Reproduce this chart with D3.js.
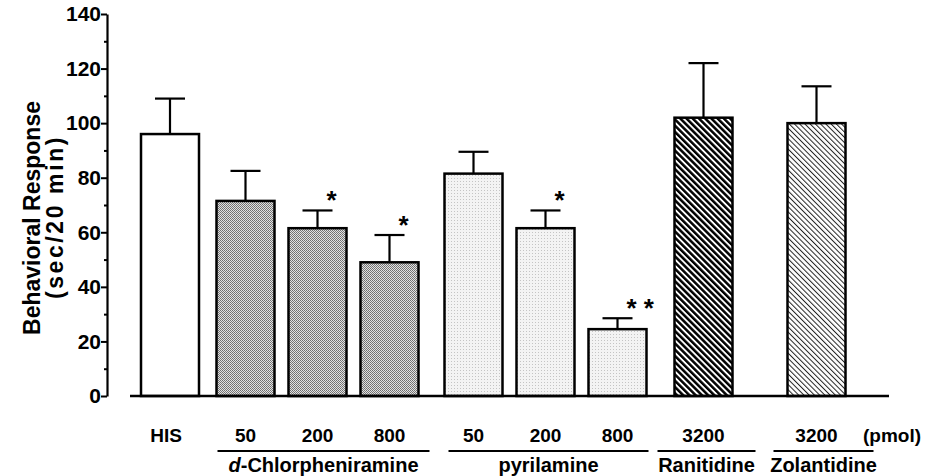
<!DOCTYPE html>
<html><head><meta charset="utf-8">
<script src="https://cdn.jsdelivr.net/npm/d3@7"></script>
<style>
body{margin:0;background:#fff}
svg{display:block}
text{font-family:"Liberation Sans",Arial,Helvetica,sans-serif;font-weight:bold;fill:#000}
</style>
</head><body><svg id="c" width="926" height="476"></svg>
<script>
// ---- data ----
const groups = ["HIS", "d-Chlorpheniramine", "pyrilamine", "Ranitidine", "Zolantidine"];
const barGroup = [0, 1, 1, 1, 2, 2, 2, 3, 4];
const doses = ["HIS", "50", "200", "800", "50", "200", "800", "3200", "3200"];
const means = [96, 71.5, 61.5, 49, 81.5, 61.5, 24.5, 102, 100];
const sems = [13, 11, 6.5, 10, 8, 6.5, 4, 20, 13.5];
const sig = ["", "", "*", "*", "", "*", "* *", "", ""];
const yTicks = [0, 20, 40, 60, 80, 100, 120, 140];
const yMinor = [10, 30, 50, 70, 90, 110, 130];
const yTitle = ["Behavioral Response", "(sec/20 min)"];
const unitLabel = "(pmol)";

// ---- layout ----
const svg = d3.select("#c");
const y = d3.scaleLinear().domain([0, 140]).range([396, 14]);
const xi = d3.scaleLinear().domain([0, 8]).range([170, 746]);
const groupOffset = [0, 3.5, 15.5, 29.5, 70.5];
const xc = i => xi(i) + groupOffset[barGroup[i]];
const bw = 58;
const fills = ["#fff", "url(#pDots)", "url(#pStip)", "url(#pHeavy)", "url(#pLight)"];

const defs = svg.append("defs");
const p1 = defs.append("pattern").attr("id", "pDots").attr("patternUnits", "userSpaceOnUse")
  .attr("width", 2).attr("height", 2);
p1.append("rect").attr("width", 2).attr("height", 2).attr("fill", "#e2e2e2");
p1.append("rect").attr("width", 1).attr("height", 1).attr("fill", "#6e6e6e");
p1.append("rect").attr("x", 1).attr("y", 1).attr("width", 1).attr("height", 1).attr("fill", "#7a7a7a");
const p2 = defs.append("pattern").attr("id", "pStip").attr("patternUnits", "userSpaceOnUse")
  .attr("width", 3).attr("height", 3);
p2.append("rect").attr("width", 3).attr("height", 3).attr("fill", "#f3f3f3");
p2.append("rect").attr("x", 1).attr("y", 1).attr("width", 1).attr("height", 1).attr("fill", "#c4c4c4");
const p3 = defs.append("pattern").attr("id", "pHeavy").attr("patternUnits", "userSpaceOnUse")
  .attr("width", 4.4).attr("height", 10).attr("patternTransform", "rotate(-45)");
p3.append("rect").attr("width", 4.4).attr("height", 10).attr("fill", "#fff");
p3.append("rect").attr("width", 2.5).attr("height", 10).attr("fill", "#000");
const p4 = defs.append("pattern").attr("id", "pLight").attr("patternUnits", "userSpaceOnUse")
  .attr("width", 3.7).attr("height", 10).attr("patternTransform", "rotate(-45)");
p4.append("rect").attr("width", 3.7).attr("height", 10).attr("fill", "#fff");
p4.append("rect").attr("width", 1).attr("height", 10).attr("fill", "#222");

function txt(g, x, yy, str, size, anchor, rot) {
  return g.append("text")
    .attr("transform", `translate(${x},${yy})` + (rot ? ` rotate(${rot})` : ""))
    .attr("text-anchor", anchor || "middle")
    .attr("font-size", size)
    .text(str);
}

// ---- y axis ----
const axis = d3.axisLeft(y).tickValues(yTicks).tickSize(6).tickSizeOuter(0).tickPadding(0);
const ga = svg.append("g").attr("transform", "translate(107,0)").call(axis);
ga.select(".domain").attr("stroke", "#000").attr("stroke-width", 2.2);
ga.selectAll(".tick line").attr("stroke", "#000").attr("stroke-width", 2);
ga.selectAll(".tick text")
  .attr("font-size", 21)
  .attr("font-family", "Liberation Sans, Arial, sans-serif")
  .attr("font-weight", "bold")
  .attr("fill", "#000");
const minor = d3.axisLeft(y).tickValues(yMinor).tickSize(3).tickSizeOuter(0).tickFormat("");
const gm = svg.append("g").attr("transform", "translate(107,0)").call(minor);
gm.select(".domain").remove();
gm.selectAll(".tick line").attr("stroke", "#000").attr("stroke-width", 2);

// y title
txt(svg, 40, 218, yTitle[0], 23, "middle", -90);
txt(svg, 63, 217, yTitle[1], 23, "middle", -90).attr("letter-spacing", 2.6);

// ---- bars ----
const idx = d3.range(means.length);
const gb = svg.append("g");
gb.selectAll("rect.bar").data(idx).join("rect")
  .attr("class", "bar")
  .attr("x", i => xc(i) - bw / 2)
  .attr("y", i => y(means[i]))
  .attr("width", bw)
  .attr("height", i => y(0) - y(means[i]))
  .attr("fill", i => fills[barGroup[i]])
  .attr("stroke", "#000").attr("stroke-width", 2.5);

gb.selectAll("line.err").data(idx).join("line").attr("class", "err")
  .attr("x1", xc).attr("x2", xc)
  .attr("y1", i => y(means[i])).attr("y2", i => y(means[i] + sems[i]))
  .attr("stroke", "#000").attr("stroke-width", 2.2);
gb.selectAll("line.cap").data(idx).join("line").attr("class", "cap")
  .attr("x1", i => xc(i) - 15).attr("x2", i => xc(i) + 15)
  .attr("y1", i => y(means[i] + sems[i])).attr("y2", i => y(means[i] + sems[i]))
  .attr("stroke", "#000").attr("stroke-width", 2.2);

// significance stars
idx.filter(i => sig[i]).forEach(i => {
  svg.append("text")
    .attr("x", xc(i) + 9).attr("y", y(means[i] + sems[i]) - 1)
    .attr("text-anchor", "start")
    .attr("font-size", 26)
    .style("white-space", "pre")
    .text(sig[i]);
});

// baseline
svg.append("line").attr("x1", 130).attr("x2", 889).attr("y1", y(0)).attr("y2", y(0))
  .attr("stroke", "#000").attr("stroke-width", 2.5);

// ---- x labels ----
idx.forEach(i => txt(svg, xc(i) - (i === 0 ? 4 : 0), 442, doses[i], 19, "middle"));
txt(svg, 863, 442, unitLabel, 19, "start");

const padL = [0, 28, 25, 46, 43], padR = [0, 40, 31, 52, 57];
groups.forEach((name, gi) => {
  if (gi === 0) return;
  const members = idx.filter(i => barGroup[i] === gi);
  const x0 = xc(members[0]) - padL[gi], x1 = xc(members[members.length - 1]) + padR[gi];
  svg.append("line").attr("x1", x0).attr("x2", x1).attr("y1", 451).attr("y2", 451)
    .attr("stroke", "#000").attr("stroke-width", 2);
  const t = txt(svg, (x0 + x1) / 2, 472, "", 20, "middle");
  if (name.startsWith("d-")) {
    t.append("tspan").attr("font-style", "italic").text("d");
    t.append("tspan").text(name.slice(1));
  } else t.text(name);
});
</script>
</body></html>
